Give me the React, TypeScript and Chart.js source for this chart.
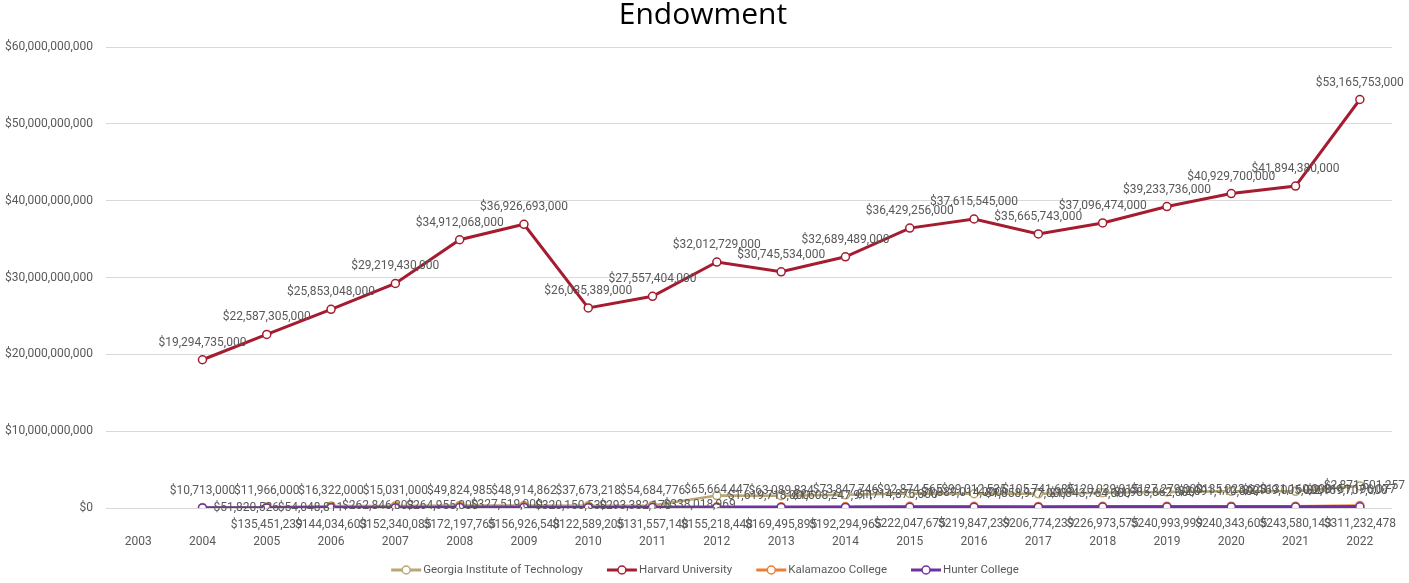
import React, { useEffect, useRef } from "react";
import { Chart, registerables } from "chart.js";

Chart.register(...registerables);

const years = ["2003", "2004", "2005", "2006", "2007", "2008", "2009", "2010", "2011", "2012", "2013", "2014", "2015", "2016", "2017", "2018", "2019", "2020", "2021", "2022"];

const georgiaTech = [null, 51820526, 54048811, 262846803, 264955000, 327519000, 320150530, 293382170, 338018969, 1619718000, 1608247911, 1714876000, 1889014000, 1858977000, 1843764000, 1985862000, 2091110000, 2169005000, 2169707000, 2871501257];
const harvard = [null, 19294735000, 22587305000, 25853048000, 29219430000, 34912068000, 36926693000, 26035389000, 27557404000, 32012729000, 30745534000, 32689489000, 36429256000, 37615545000, 35665743000, 37096474000, 39233736000, 40929700000, 41894380000, 53165753000];
const kalamazoo = [null, null, 135451239, 144034603, 152340085, 172197765, 156926548, 122589205, 131557148, 155218448, 169495895, 192294965, 222047675, 219847239, 206774239, 226973575, 240993999, 240343605, 243580143, 311232478];
const hunter = [null, 10713000, 11966000, 16322000, 15031000, 49824985, 48914862, 37673218, 54684776, 65664447, 63089834, 73847746, 92874565, 99012535, 105741685, 120039015, 127279000, 135023623, 131160000, 151196077];

const seriesNames = ["Georgia Institute of Technology", "Harvard University", "Kalamazoo College", "Hunter College"];
const seriesColors = ["#B8A772", "#A51C30", "#ED7D31", "#7030A0"];
const labelPositions = ["right", "above", "below", "above"];
const yTicks = [0, 10000000000, 20000000000, 30000000000, 40000000000, 50000000000, 60000000000];
const chartTitle = "Endowment";

const FONT = "Roboto, 'Noto Sans', sans-serif";
const TEXT_GRAY = "#595959";

const fmt = (v: number) => "$" + Math.round(v).toLocaleString("en-US");

const labelPlugin = {
  id: "excelLabels",
  afterDatasetsDraw(chart: any) {
    const ctx = chart.ctx;
    ctx.save();
    ctx.font = `12px ${FONT}`;
    ctx.fillStyle = TEXT_GRAY;
    ctx.textBaseline = "middle";
    ctx.textAlign = "left";
    chart.data.datasets.forEach((ds: any, i: number) => {
      const meta = chart.getDatasetMeta(i);
      const pos = labelPositions[i];
      meta.data.forEach((pt: any, j: number) => {
        const v = ds.data[j];
        if (v == null) return;
        const text = fmt(v);
        const w = ctx.measureText(text).width;
        let x: number;
        let y: number;
        if (pos === "above") {
          x = pt.x - w / 2;
          y = pt.y - 17;
        } else if (pos === "below") {
          x = pt.x - w / 2;
          y = pt.y + 18;
        } else {
          x = pt.x + 11;
          y = pt.y;
        }
        if (x + w > chart.width - 4) x = chart.width - 4 - w;
        ctx.fillText(text, x, y);
      });
    });
    ctx.restore();
  },
  afterDraw(chart: any) {
    const ctx = chart.ctx;
    ctx.save();
    ctx.font = `30px 'Open Sans', ${FONT}`;
    ctx.fillStyle = "#000000";
    ctx.textAlign = "center";
    ctx.textBaseline = "middle";
    ctx.fillText(chartTitle, 703, 15);
    ctx.font = `11.5px ${FONT}`;
    ctx.textAlign = "left";
    const symW = 30;
    const gap = 24;
    const widths = seriesNames.map((n) => symW + 2 + ctx.measureText(n).width);
    const total = widths.reduce((a, b) => a + b, 0) + gap * (seriesNames.length - 1);
    let x = 705 - total / 2;
    const y = 570;
    seriesNames.forEach((n, i) => {
      ctx.strokeStyle = seriesColors[i];
      ctx.lineWidth = 3;
      ctx.beginPath();
      ctx.moveTo(x, y);
      ctx.lineTo(x + symW, y);
      ctx.stroke();
      ctx.beginPath();
      ctx.arc(x + symW / 2, y, 4, 0, Math.PI * 2);
      ctx.fillStyle = "#ffffff";
      ctx.fill();
      ctx.lineWidth = 1.5;
      ctx.stroke();
      ctx.fillStyle = TEXT_GRAY;
      ctx.fillText(n, x + symW + 2, y);
      x += widths[i] + gap;
    });
    ctx.restore();
  },
};

export default function App() {
  const canvasRef = useRef<HTMLCanvasElement | null>(null);

  useEffect(() => {
    if (!canvasRef.current) return;
    const seriesData = [georgiaTech, harvard, kalamazoo, hunter];
    const chart = new Chart(canvasRef.current, {
      type: "line",
      data: {
        labels: years,
        datasets: seriesData.map((d, i) => ({
          label: seriesNames[i],
          data: d,
          order: seriesData.length - 1 - i,
          borderColor: seriesColors[i],
          backgroundColor: "#ffffff",
          borderWidth: i === 3 ? 3.5 : i === 1 ? 3 : 2.5,
          pointRadius: 4,
          pointBorderWidth: 1.5,
          pointBackgroundColor: "#ffffff",
          pointBorderColor: seriesColors[i],
          tension: 0,
          spanGaps: false,
        })),
      },
      options: {
        animation: false,
        responsive: true,
        maintainAspectRatio: false,
        layout: { padding: { top: 47, right: 17, left: 0, bottom: 0 } },
        plugins: {
          legend: { display: false },
          title: { display: false },
          tooltip: { enabled: false },
        },
        scales: {
          x: {
            type: "category",
            offset: true,
            grid: { display: false, drawTicks: false },
            border: { display: false },
            ticks: { color: TEXT_GRAY, font: { size: 12, family: FONT }, padding: 27, maxRotation: 0, autoSkip: false },
            afterFit: (scale: any) => {
              scale.height = 75;
            },
          },
          y: {
            min: 0,
            max: 60000000000,
            afterBuildTicks: (scale: any) => {
              scale.ticks = yTicks.map((v) => ({ value: v }));
            },
            grid: { color: "#d9d9d9", lineWidth: 1, drawTicks: false },
            border: { display: false },
            ticks: {
              color: TEXT_GRAY,
              font: { size: 12, family: FONT },
              padding: 13,
              callback: (v: any) => fmt(Number(v)),
            },
            afterFit: (scale: any) => {
              scale.width = 106;
            },
          },
        },
      },
      plugins: [labelPlugin],
    });
    return () => chart.destroy();
  }, []);

  return (
    <div style={{ position: "fixed", left: 0, top: 0, width: 1409, height: 583, background: "#ffffff" }}>
      <canvas ref={canvasRef} />
    </div>
  );
}
